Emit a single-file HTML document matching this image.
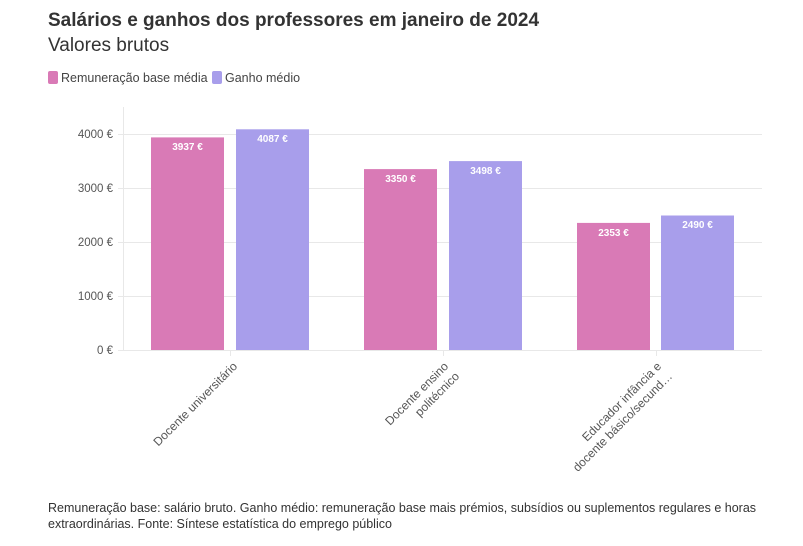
<!DOCTYPE html>
<html><head><meta charset="utf-8"><style>
body{margin:0;background:#fff;font-family:"Liberation Sans",sans-serif;}
</style></head><body>
<svg width="803" height="541" xmlns="http://www.w3.org/2000/svg" font-family="Liberation Sans, sans-serif">
<text x="48" y="26" font-size="19" font-weight="bold" fill="#333">Salários e ganhos dos professores em janeiro de 2024</text>
<text x="48" y="51" font-size="19" fill="#333">Valores brutos</text>
<rect x="48" y="71" width="10" height="13" rx="2" fill="#d97ab6"/>
<text x="61" y="82" font-size="12.5" fill="#444">Remuneração base média</text>
<rect x="212" y="71" width="10" height="13" rx="2" fill="#a89eeb"/>
<text x="225" y="82" font-size="12.5" fill="#444">Ganho médio</text>
<g stroke="#e8e8e8" stroke-width="1">
<line x1="118" y1="134.5" x2="762" y2="134.5"/>
<line x1="118" y1="188.5" x2="762" y2="188.5"/>
<line x1="118" y1="242.5" x2="762" y2="242.5"/>
<line x1="118" y1="296.5" x2="762" y2="296.5"/>
<line x1="118" y1="350.5" x2="762" y2="350.5"/>
<line x1="123.5" y1="107" x2="123.5" y2="350"/>
<line x1="230.5" y1="350" x2="230.5" y2="356"/>
<line x1="443.5" y1="350" x2="443.5" y2="356"/>
<line x1="656.5" y1="350" x2="656.5" y2="356"/>
</g>
<g font-size="11.5" fill="#555" text-anchor="end">
<text x="113" y="138">4000 €</text>
<text x="113" y="192">3000 €</text>
<text x="113" y="246">2000 €</text>
<text x="113" y="300">1000 €</text>
<text x="113" y="354">0 €</text>
</g>
<g>
<rect x="151" y="137.4" width="73" height="212.6" fill="#d97ab6"/>
<rect x="236" y="129.3" width="73" height="220.7" fill="#a89eeb"/>
<rect x="364" y="169.1" width="73" height="180.9" fill="#d97ab6"/>
<rect x="449" y="161.1" width="73" height="188.9" fill="#a89eeb"/>
<rect x="577" y="222.9" width="73" height="127.1" fill="#d97ab6"/>
<rect x="661" y="215.5" width="73" height="134.5" fill="#a89eeb"/>
</g>
<g font-size="10" font-weight="bold" fill="#fff" text-anchor="middle">
<text x="187.5" y="150">3937 €</text>
<text x="272.5" y="142">4087 €</text>
<text x="400.5" y="182">3350 €</text>
<text x="485.5" y="174">3498 €</text>
<text x="613.5" y="236">2353 €</text>
<text x="697.5" y="228">2490 €</text>
</g>
<g font-size="12" fill="#555" text-anchor="end">
<text transform="translate(238,367) rotate(-45)">Docente universitário</text>
<text transform="translate(449,367) rotate(-45)">Docente ensino</text>
<text transform="translate(460,377) rotate(-45)">politécnico</text>
<text transform="translate(662,367) rotate(-45)">Educador infância e</text>
<text transform="translate(673,377) rotate(-45)">docente básico/secund…</text>
</g>
<text x="48" y="512" font-size="12.5" fill="#333">Remuneração base: salário bruto. Ganho médio: remuneração base mais prémios, subsídios ou suplementos regulares e horas</text>
<text x="48" y="528" font-size="12.5" fill="#333">extraordinárias. Fonte: Síntese estatística do emprego público</text>
</svg>
</body></html>
